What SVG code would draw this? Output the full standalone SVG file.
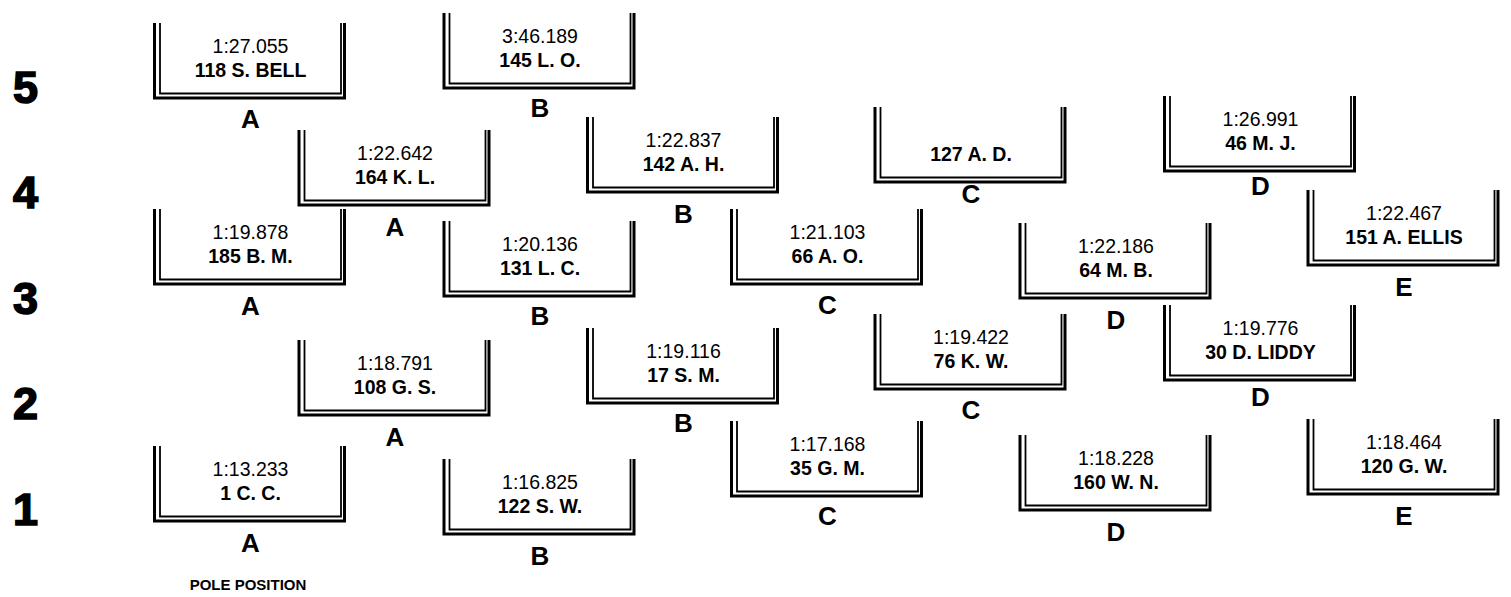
<svg xmlns="http://www.w3.org/2000/svg" width="1511" height="597" viewBox="0 0 1511 597">
<style>
.o{fill:none;stroke:#000;stroke-width:3}
.i{fill:none;stroke:#000;stroke-width:1.8}
.t{font-family:"Liberation Sans",Arial,sans-serif;font-size:19.5px;fill:#000;text-anchor:middle}
.n{font-family:"Liberation Sans",Arial,sans-serif;font-size:19.5px;font-weight:bold;fill:#000;text-anchor:middle}
.l{font-family:"Liberation Sans",Arial,sans-serif;font-size:26px;font-weight:bold;fill:#000;text-anchor:middle}
.r{font-family:"Liberation Sans",Arial,sans-serif;font-size:45px;font-weight:bold;fill:#000;stroke:#000;stroke-width:1.6}
.p{font-family:"Liberation Sans",Arial,sans-serif;font-size:15px;font-weight:bold;fill:#000;text-anchor:middle}
</style>
<defs>
<g id="frame">
<path class="o" d="M0,0 V75 H190 V0"/>
<path class="i" d="M5.5,0 V70.5 H186.5 V0"/>
</g>
</defs>
<g id="rows">
<text class="r" x="13" y="103">5</text>
<text class="r" x="13" y="208">4</text>
<text class="r" x="13" y="314">3</text>
<text class="r" x="13" y="419">2</text>
<text class="r" x="13" y="525">1</text>
</g>
<g id="A5" transform="translate(154.5,23)"><use href="#frame"/><text class="t" x="96" y="30">1:27.055</text><text class="n" x="96" y="53.5">118 S. BELL</text><text class="l" x="96" y="105">A</text></g>
<g id="B5" transform="translate(444,13)"><use href="#frame"/><text class="t" x="96" y="30">3:46.189</text><text class="n" x="96" y="53.5">145 L. O.</text><text class="l" x="96" y="104">B</text></g>
<g id="A4" transform="translate(299,130)"><use href="#frame"/><text class="t" x="96" y="30">1:22.642</text><text class="n" x="96" y="53.5">164 K. L.</text><text class="l" x="96" y="106">A</text></g>
<g id="B4" transform="translate(587.5,117)"><use href="#frame"/><text class="t" x="96" y="30">1:22.837</text><text class="n" x="96" y="53.5">142 A. H.</text><text class="l" x="96" y="106">B</text></g>
<g id="C4" transform="translate(875,107)"><use href="#frame"/><text class="n" x="96" y="53.5">127 A. D.</text><text class="l" x="96" y="96">C</text></g>
<g id="D4" transform="translate(1164.5,96)"><use href="#frame"/><text class="t" x="96" y="30">1:26.991</text><text class="n" x="96" y="53.5">46 M. J.</text><text class="l" x="96" y="99">D</text></g>
<g id="A3" transform="translate(154.5,209)"><use href="#frame"/><text class="t" x="96" y="30">1:19.878</text><text class="n" x="96" y="53.5">185 B. M.</text><text class="l" x="96" y="106">A</text></g>
<g id="B3" transform="translate(444,221)"><use href="#frame"/><text class="t" x="96" y="30">1:20.136</text><text class="n" x="96" y="53.5">131 L. C.</text><text class="l" x="96" y="104">B</text></g>
<g id="C3" transform="translate(731.5,209)"><use href="#frame"/><text class="t" x="96" y="30">1:21.103</text><text class="n" x="96" y="53.5">66 A. O.</text><text class="l" x="96" y="105">C</text></g>
<g id="D3" transform="translate(1020,223)"><use href="#frame"/><text class="t" x="96" y="30">1:22.186</text><text class="n" x="96" y="53.5">64 M. B.</text><text class="l" x="96" y="106">D</text></g>
<g id="E3" transform="translate(1308,190)"><use href="#frame"/><text class="t" x="96" y="30">1:22.467</text><text class="n" x="96" y="53.5">151 A. ELLIS</text><text class="l" x="96" y="106">E</text></g>
<g id="A2" transform="translate(299,340)"><use href="#frame"/><text class="t" x="96" y="30">1:18.791</text><text class="n" x="96" y="53.5">108 G. S.</text><text class="l" x="96" y="106">A</text></g>
<g id="B2" transform="translate(587.5,328)"><use href="#frame"/><text class="t" x="96" y="30">1:19.116</text><text class="n" x="96" y="53.5">17 S. M.</text><text class="l" x="96" y="104">B</text></g>
<g id="C2" transform="translate(875,314)"><use href="#frame"/><text class="t" x="96" y="30">1:19.422</text><text class="n" x="96" y="53.5">76 K. W.</text><text class="l" x="96" y="105">C</text></g>
<g id="D2" transform="translate(1164.5,305)"><use href="#frame"/><text class="t" x="96" y="30">1:19.776</text><text class="n" x="96" y="53.5">30 D. LIDDY</text><text class="l" x="96" y="101">D</text></g>
<g id="A1" transform="translate(154.5,446)"><use href="#frame"/><text class="t" x="96" y="30">1:13.233</text><text class="n" x="96" y="53.5">1 C. C.</text><text class="l" x="96" y="106">A</text></g>
<g id="B1" transform="translate(444,459)"><use href="#frame"/><text class="t" x="96" y="30">1:16.825</text><text class="n" x="96" y="53.5">122 S. W.</text><text class="l" x="96" y="106">B</text></g>
<g id="C1" transform="translate(731.5,421)"><use href="#frame"/><text class="t" x="96" y="30">1:17.168</text><text class="n" x="96" y="53.5">35 G. M.</text><text class="l" x="96" y="104">C</text></g>
<g id="D1" transform="translate(1020,435)"><use href="#frame"/><text class="t" x="96" y="30">1:18.228</text><text class="n" x="96" y="53.5">160 W. N.</text><text class="l" x="96" y="106">D</text></g>
<g id="E1" transform="translate(1308,419)"><use href="#frame"/><text class="t" x="96" y="30">1:18.464</text><text class="n" x="96" y="53.5">120 G. W.</text><text class="l" x="96" y="106">E</text></g>
<text id="pole" class="p" x="248" y="590">POLE POSITION</text>
<g id="connectors"/>
</svg>
